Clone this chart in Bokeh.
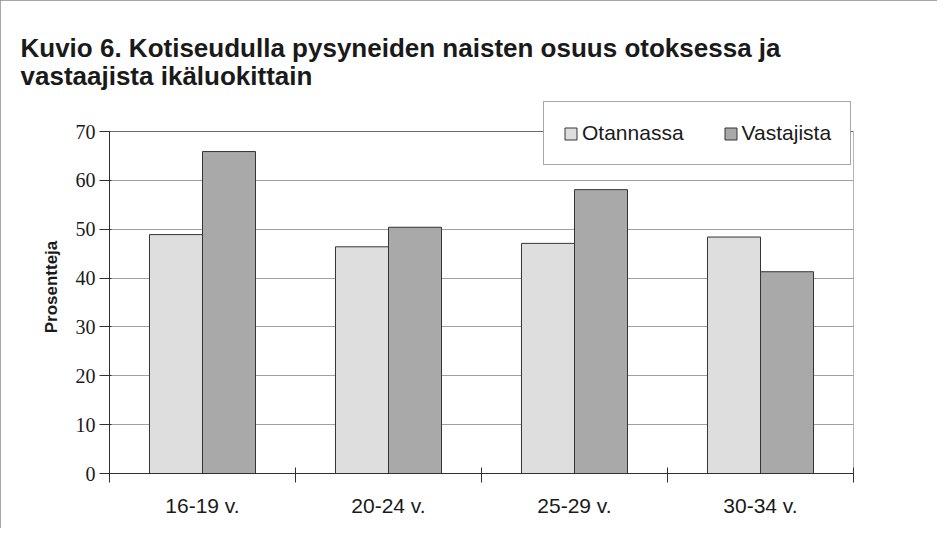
from bokeh.plotting import figure
from bokeh.models import (Range1d, FixedTicker, Legend, LegendItem, ColumnDataSource, Span)
from bokeh.transform import dodge
from bokeh.embed import file_html
from bokeh.resources import INLINE

# ---- data ----
ages = ["16-19 v.", "20-24 v.", "25-29 v.", "30-34 v."]
otannassa = [48.9, 46.4, 47.1, 48.4]
vastajista = [65.9, 50.4, 58.1, 41.3]
series_names = ["Otannassa", "Vastajista"]
y_ticks = [0, 10, 20, 30, 40, 50, 60, 70]

title_text = "Kuvio 6. Kotiseudulla pysyneiden naisten osuus otoksessa ja\nvastaajista ikäluokittain"

# ---- layout (pixels) ----
W, H = 937, 528
frame_left, frame_right, frame_bottom = 109, 853, 473
axis_top_px, frame_top = 131, 100      # y=70 sits at 131; frame extended up so legend is not clipped
y_max = y_ticks[-1]
y_end = y_max * (frame_bottom - frame_top) / (frame_bottom - axis_top_px)

centers = [i + 0.5 for i in range(len(ages))]
src = ColumnDataSource(dict(x=centers, ota=otannassa, vas=vastajista))

p = figure(width=W, height=H, output_backend="svg", toolbar_location=None,
           x_range=Range1d(0, len(ages)), y_range=Range1d(0, y_end),
           min_border_left=frame_left, min_border_right=W - frame_right,
           min_border_top=frame_top, min_border_bottom=H - frame_bottom)

p.styles = {"outline": "1px solid #8a8a8a", "outline-offset": "-1px"}

# title
p.title.text = title_text
p.title.text_font = "Liberation Sans"
p.title.text_font_style = "bold"
p.title.text_font_size = "26px"
p.title.text_color = "#1a1a1a"
p.title.text_line_height = 0.95
p.title.align = "left"
p.title.offset = 20 - frame_left
p.title.standoff = 19

bw = 0.285
r1 = p.vbar(x=dodge("x", -bw / 2), top="ota", width=bw, source=src,
            fill_color="#dedede", line_color="#353535", line_width=1)
r2 = p.vbar(x=dodge("x", bw / 2), top="vas", width=bw, source=src,
            fill_color="#a9a9a9", line_color="#353535", line_width=1)

# plot-area border (top at 70, right edge) and grid
p.outline_line_color = None
p.xgrid.grid_line_color = None
p.ygrid.ticker = FixedTicker(ticks=y_ticks[1:-1])
p.ygrid.grid_line_color = "#a0a0a0"
p.ygrid.grid_line_width = 1
p.add_layout(Span(location=y_max, dimension="width", line_color="#6a6a6a", line_width=1))
p.segment(x0=[len(ages)], x1=[len(ages)], y0=[0], y1=[y_max], line_color="#6a6a6a", line_width=1)

# y axis
ya = p.yaxis[0]
ya.ticker = FixedTicker(ticks=y_ticks)
ya.bounds = (0, y_max)
ya.axis_line_color = "#303030"
ya.major_tick_line_color = "#303030"
ya.major_tick_out = 10
ya.major_tick_in = 2
ya.minor_tick_line_color = None
ya.major_label_text_font = "Liberation Serif"
ya.major_label_text_font_size = "20px"
ya.major_label_text_color = "#1a1a1a"
ya.major_label_standoff = 4
ya.axis_label = "Prosentteja"
ya.axis_label_text_font = "Liberation Sans"
ya.axis_label_text_font_style = "bold"
ya.axis_label_text_font_size = "17px"
ya.axis_label_text_color = "#1a1a1a"
ya.axis_label_standoff = 12

# x axis: labels at category centres, tick marks at category boundaries
xa = p.xaxis[0]
xa.ticker = FixedTicker(ticks=centers, minor_ticks=list(range(len(ages) + 1)))
xa.major_label_overrides = {c: a for c, a in zip(centers, ages)}
xa.axis_line_color = "#303030"
xa.major_tick_line_color = None
xa.major_tick_out = 0
xa.major_tick_in = 0
xa.minor_tick_line_color = "#303030"
xa.minor_tick_out = 9
xa.minor_tick_in = 6
xa.major_label_text_font = "Liberation Sans"
xa.major_label_text_font_size = "21px"
xa.major_label_text_color = "#1a1a1a"
xa.major_label_standoff = 11

# legend
legend = Legend(items=[LegendItem(label=series_names[0], renderers=[r1]),
                       LegendItem(label=series_names[1], renderers=[r2])],
                orientation="horizontal", location=(543 - frame_left, frame_bottom - 165),
                label_text_font="Liberation Sans", label_text_font_size="21px",
                label_text_color="#1a1a1a",
                glyph_width=15, glyph_height=15, label_standoff=4, spacing=39,
                padding=19, margin=0,
                border_line_color="#505050", border_line_width=1,
                background_fill_color="white", background_fill_alpha=1)
p.add_layout(legend, "center")

p.background_fill_color = "white"
p.border_fill_color = "white"

open("out.html", "w").write(file_html(p, INLINE))
